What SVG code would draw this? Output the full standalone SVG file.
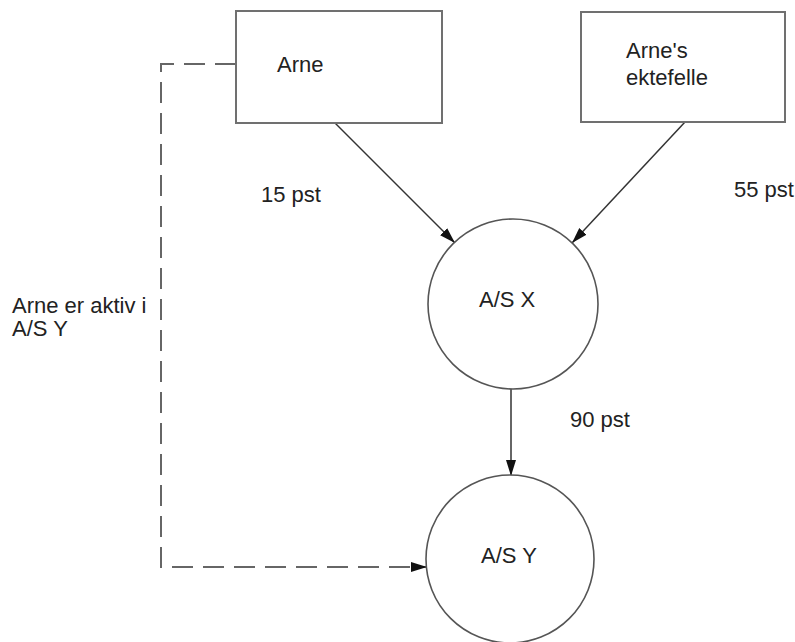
<svg xmlns="http://www.w3.org/2000/svg" width="795" height="642" viewBox="0 0 795 642">
<defs>
<style>
.box{fill:#fff;stroke:#707070;stroke-width:2}
.circ{fill:#fff;stroke:#555;stroke-width:1.6}
.t{font-family:"Liberation Sans",Arial,sans-serif;font-size:22px;fill:#222}
.edge{fill:none;stroke:#333;stroke-width:1.5}
.dash{fill:none;stroke:#666;stroke-width:2;stroke-dasharray:21 10}
</style>
<marker id="ah" markerUnits="userSpaceOnUse" markerWidth="17" markerHeight="12" refX="16" refY="5" orient="auto">
<path d="M0,0 L16,5 L0,10 z" fill="#111"/>
</marker>
</defs>
<rect width="795" height="642" fill="#fff"/>
<g id="connectors">
<line class="edge" x1="335" y1="123" x2="455" y2="243" marker-end="url(#ah)"/>
<line class="edge" x1="685" y1="122" x2="572" y2="243" marker-end="url(#ah)"/>
<line class="edge" x1="511" y1="389" x2="511" y2="476" marker-end="url(#ah)"/>
<path class="dash" d="M236,64 H161 V567 H427" marker-end="url(#ah)"/>
</g>
<g id="arne">
<rect class="box" x="236" y="11" width="206" height="112"/>
<text class="t" x="277" y="72">Arne</text>
</g>
<g id="ektefelle">
<rect class="box" x="581" y="12" width="204" height="110"/>
<text class="t" x="626" y="58">Arne's</text>
<text class="t" x="626" y="85">ektefelle</text>
</g>
<g id="asx">
<circle class="circ" cx="513" cy="304" r="85"/>
<text class="t" x="479" y="307">A/S X</text>
</g>
<g id="asy">
<circle class="circ" cx="510" cy="559" r="84"/>
<text class="t" x="481" y="563">A/S Y</text>
</g>
<g id="labels">
<text class="t" x="261" y="202">15 pst</text>
<text class="t" x="734" y="197">55 pst</text>
<text class="t" x="570" y="427">90 pst</text>
<text class="t" x="12" y="313">Arne er aktiv i</text>
<text class="t" x="12" y="336">A/S Y</text>
</g>
</svg>
